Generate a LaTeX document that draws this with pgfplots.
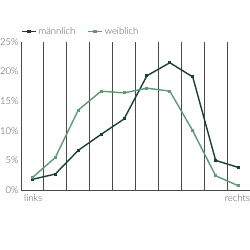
\documentclass[border=0pt]{standalone}
\usepackage{pgfplots}
\pgfplotsset{compat=1.18}
\usepackage{fontspec}
\setmainfont{Lato}[UprightFont=* Light]
\definecolor{male}{HTML}{1B4030}
\definecolor{female}{HTML}{5E9A72}
\definecolor{gridc}{HTML}{4A4A4A}
\definecolor{txt}{HTML}{505050}
\begin{document}
\begin{tikzpicture}
\useasboundingbox (-21pt,-60pt) rectangle (229pt,190pt);
\begin{axis}[
  at={(0,0)}, anchor=south west,
  scale only axis, width=229pt, height=148pt,
  xmin=0, xmax=10, ymin=0, ymax=25,
  axis lines=left, axis line style={-, gridc, line width=0.8pt},
  xtick={0,...,10}, xticklabels={},
  ytick={0,5,...,25},
  yticklabel={\pgfmathprintnumber{\tick}\%},
  /pgf/number format/assume math mode=true,
  major tick length=0pt,
  xmajorgrids, grid style={gridc, line width=0.8pt},
  ticklabel style={font=\fontsize{9.5}{10}\selectfont, text=txt},
  yticklabel style={xshift=1pt},
  clip=false,
  legend columns=2,
  legend style={draw=none, fill=none, at={(rel axis cs:0,1)}, anchor=south west,
    font=\fontsize{9.5}{10}\selectfont, text=txt, inner sep=0pt, yshift=4pt,
    /tikz/every even column/.append style={column sep=10pt}},
  legend image code/.code={\draw[#1,line width=1.5pt] (0pt,0pt) -- (14pt,0pt) plot[mark=square*, mark size=0.9pt] coordinates {(7pt,0pt)};},
]
\addplot[male, line width=1.4pt, mark=square*, mark size=0.8pt] coordinates {
 (0.5,1.8) (1.5,2.7) (2.5,6.7) (3.5,9.4) (4.5,12.0) (5.5,19.3) (6.5,21.5) (7.5,19.1) (8.5,5.0) (9.5,3.8)};
\addlegendentry{männlich}
\addplot[female, line width=1.4pt, mark=square*, mark size=0.8pt] coordinates {
 (0.5,2.1) (1.5,5.5) (2.5,13.5) (3.5,16.7) (4.5,16.4) (5.5,17.2) (6.5,16.7) (7.5,10.0) (8.5,2.4) (9.5,0.7)};
\addlegendentry{weiblich}
\node[anchor=north west, font=\fontsize{9.5}{10}\selectfont, text=txt, inner sep=0pt] at ([xshift=3pt,yshift=-4pt]rel axis cs:0,0) {links};
\node[anchor=north east, font=\fontsize{9.5}{10}\selectfont, text=txt, inner sep=0pt] at ([yshift=-4pt]rel axis cs:1,0) {rechts};
\end{axis}
\end{tikzpicture}
\end{document}
